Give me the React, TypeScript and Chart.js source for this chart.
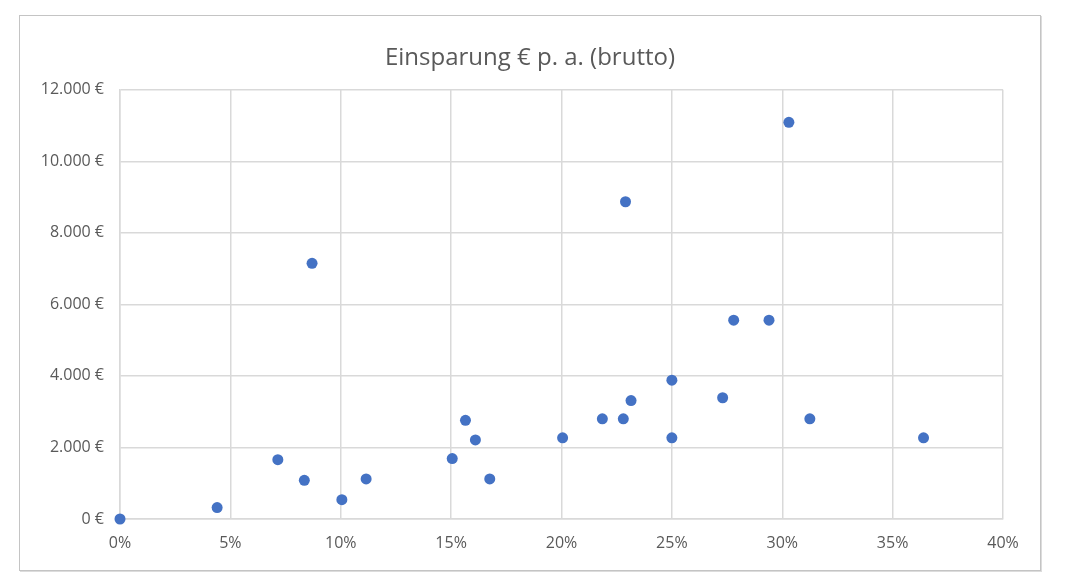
import { useEffect, useRef } from 'react';
import { Chart, registerables } from 'chart.js';

Chart.register(...registerables);

// savings rate (%) vs. gross savings per year (€)
const savingsPercent = [
    0, 4.4, 7.15, 8.35, 8.7, 10.05, 11.15, 15.05, 15.65, 16.1, 16.75, 20.05,
    21.85, 22.8, 22.9, 23.15, 25.0, 25.0, 27.3, 27.8, 29.4, 30.3, 31.25, 36.4,
];
const savingsEuro = [
    0, 320, 1660, 1080, 7150, 540, 1120, 1690, 2760, 2210, 1120, 2270,
    2800, 2800, 8870, 3310, 3880, 2270, 3390, 5560, 5560, 11090, 2800, 2270,
];
const chartTitle = 'Einsparung € p. a. (brutto)';

const textColor = '#595959';
const gridColor = '#d9d9d9';
const pointColor = '#4472c4';
const fontFamily = '"Open Sans", Lato, sans-serif';

const formatEuro = (v: number) =>
    String(Math.round(v)).replace(/\B(?=(\d{3})+(?!\d))/g, '.') + '\u00a0€';

// Excel centres the title on the whole chart, not on the padded box
const centerTitlePlugin = {
    id: 'centerTitle',
    afterLayout: (chart: any) => {
        if (chart.titleBlock) {
            chart.titleBlock.left = 0;
            chart.titleBlock.right = chart.width;
        }
    },
};

const App = () => {
    const canvasRef = useRef<HTMLCanvasElement | null>(null);

    useEffect(() => {
        if (!canvasRef.current) return;

        const chart = new Chart(canvasRef.current, {
            type: 'scatter',
            data: {
                datasets: [
                    {
                        label: chartTitle,
                        data: savingsPercent.map((x, i) => ({ x, y: savingsEuro[i] })),
                        backgroundColor: pointColor,
                        borderColor: pointColor,
                        pointRadius: 5.5,
                        pointBorderWidth: 0,
                        clip: false,
                    },
                ],
            },
            plugins: [centerTitlePlugin],
            options: {
                responsive: true,
                maintainAspectRatio: false,
                animation: false,
                layout: { padding: { left: 10, right: 37, top: 0, bottom: 11 } },
                plugins: {
                    legend: { display: false },
                    tooltip: { enabled: false },
                    title: {
                        display: true,
                        text: chartTitle,
                        color: textColor,
                        font: { family: fontFamily, size: 24, weight: 'normal' },
                        padding: { top: 28, bottom: 17 },
                    },
                },
                scales: {
                    x: {
                        type: 'linear',
                        min: 0,
                        max: 40,
                        afterFit: (scale: any) => {
                            scale.height = 40;
                        },
                        grid: { color: gridColor, lineWidth: 1.5, drawTicks: false },
                        border: { color: gridColor, width: 1.5 },
                        ticks: {
                            stepSize: 5,
                            padding: 15,
                            color: textColor,
                            font: { family: fontFamily, size: 16 },
                            callback: (v: any) => v + '%',
                        },
                    },
                    y: {
                        min: 0,
                        max: 12000,
                        afterFit: (scale: any) => {
                            scale.width = 90;
                        },
                        grid: { color: gridColor, lineWidth: 1.5, drawTicks: false },
                        border: { color: gridColor, width: 1.5 },
                        ticks: {
                            stepSize: 2000,
                            padding: 16,
                            color: textColor,
                            font: { family: fontFamily, size: 16 },
                            callback: (v: any) => formatEuro(Number(v)),
                        },
                    },
                },
            },
        });

        return () => {
            chart.destroy();
        };
    }, []);

    return (
        <div
            style={{
                position: 'absolute',
                left: 19,
                top: 15,
                width: 1020,
                height: 554,
                border: '1px solid #c4c4c4',
                boxShadow: '1px 1px 0 #dcdcdc',
                background: '#fff',
            }}
        >
            <canvas ref={canvasRef} />
        </div>
    );
};

export default App;
